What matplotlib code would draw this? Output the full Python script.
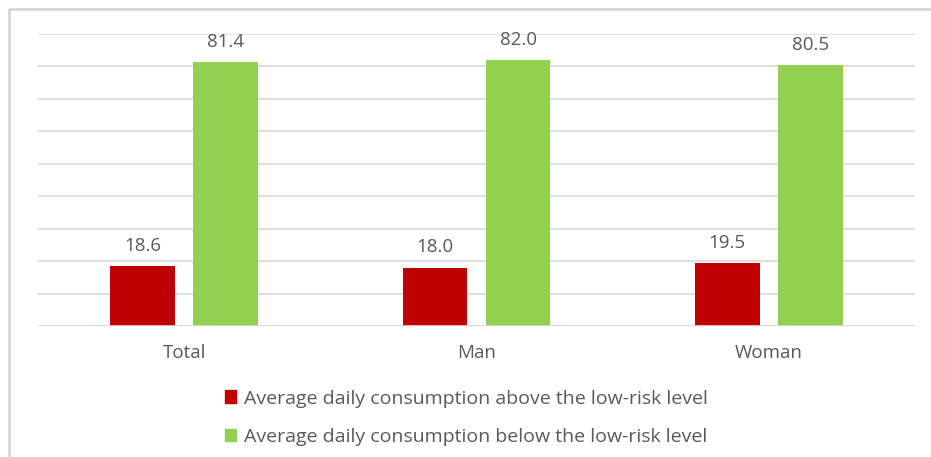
import numpy as np
import matplotlib.pyplot as plt
from matplotlib.patches import Patch
from matplotlib.lines import Line2D

plt.rcParams['font.family'] = ['Open Sans', 'DejaVu Sans']

categories = ["Total", "Man", "Woman"]
above = [18.6, 18.0, 19.5]
below = [81.4, 82.0, 80.5]
labels = ["Average daily consumption above the low-risk level",
          "Average daily consumption below the low-risk level"]
red = "#C00000"
green = "#92D050"
grey = "#595959"

W, H = 931, 457
fig = plt.figure(figsize=(W / 100, H / 100), dpi=100)
ax = fig.add_axes([38 / W, (H - 326) / H, (915 - 38) / W, (326 - 34) / H])

x = np.arange(len(categories))
bw = 0.222
off = 0.142
b1 = ax.bar(x - off, above, bw, color=red)
b2 = ax.bar(x + off, below, bw, color=green)

for bars, vals in [(b1, above), (b2, below)]:
    for b, v in zip(bars, vals):
        ax.annotate(f"{v:.1f}", (b.get_x() + b.get_width() / 2, v),
                    xytext=(0, 14.5), textcoords="offset points",
                    ha="center", va="center", fontsize=13.5, color=grey)

ax.set_xlim(-0.5, 2.5)
ax.set_ylim(0, 90)
ax.set_yticks(np.arange(0, 91, 10))
ax.set_yticklabels([])
ax.tick_params(axis="y", length=0)
ax.tick_params(axis="x", length=0, pad=13, labelsize=13.5, labelcolor=grey)
ax.set_xticks(x)
ax.set_xticklabels(categories)
ax.grid(axis="y", color="#D9D9D9", linewidth=1.2)
ax.set_axisbelow(True)
for s in ax.spines.values():
    s.set_visible(False)
ax.axhline(0, color="#D9D9D9", linewidth=1.2)

handles = [Patch(color=red), Patch(color=green)]
fig.legend(handles, labels, loc="upper left", bbox_to_anchor=(207 / W, 1 - 372 / H),
           frameon=False, fontsize=14, labelcolor=grey, handlelength=0.6,
           handleheight=0.6, handletextpad=0.4, labelspacing=1.05)

# frame: only the top and left edges are visible in the crop
fig.add_artist(Line2D([9 / W, 9 / W, 1], [0, 1 - 9 / H, 1 - 9 / H],
                      transform=fig.transFigure, color="#D6D6D6", linewidth=2))

fig.savefig("out.png", dpi=100)
